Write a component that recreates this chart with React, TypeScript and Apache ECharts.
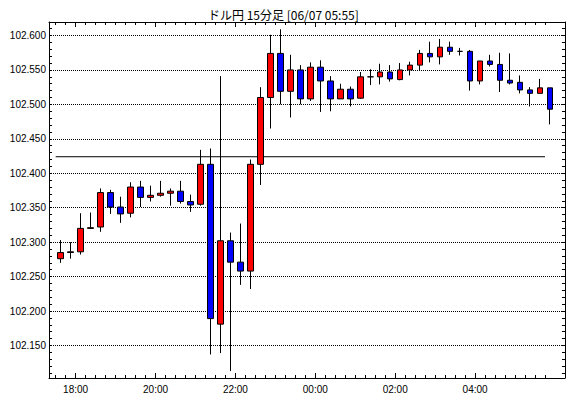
import React, { useEffect, useRef } from 'react';
import * as echarts from 'echarts';

const titleText = 'ドル円 15分足 [06/07 05:55]';

const times = [
  '17:30', '17:45', '18:00', '18:15', '18:30', '18:45', '19:00', '19:15', '19:30', '19:45',
  '20:00', '20:15', '20:30', '20:45', '21:00', '21:15', '21:30', '21:45', '22:00', '22:15',
  '22:30', '22:45', '23:00', '23:15', '23:30', '23:45', '00:00', '00:15', '00:30', '00:45',
  '01:00', '01:15', '01:30', '01:45', '02:00', '02:15', '02:30', '02:45', '03:00', '03:15',
  '03:30', '03:45', '04:00', '04:15', '04:30', '04:45', '05:00', '05:15', '05:30', '05:45',
];
const opens = [
  102.276, 102.285, 102.286, 102.320, 102.322, 102.372, 102.351, 102.342, 102.380, 102.365,
  102.368, 102.371, 102.374, 102.359, 102.355, 102.413, 102.181, 102.302, 102.271, 102.258,
  102.413, 102.510, 102.574, 102.519, 102.550, 102.508, 102.554, 102.534, 102.508, 102.522,
  102.509, 102.540, 102.540, 102.547, 102.536, 102.550, 102.557, 102.574, 102.569, 102.583,
  102.577, 102.577, 102.534, 102.563, 102.558, 102.535, 102.532, 102.521, 102.516, 102.524,
];
const closes = [
  102.285, 102.286, 102.320, 102.321, 102.372, 102.351, 102.341, 102.380, 102.365, 102.368,
  102.371, 102.374, 102.359, 102.354, 102.413, 102.189, 102.302, 102.271, 102.258, 102.413,
  102.510, 102.574, 102.519, 102.550, 102.508, 102.554, 102.534, 102.508, 102.522, 102.508,
  102.540, 102.540, 102.547, 102.537, 102.550, 102.557, 102.574, 102.569, 102.583, 102.577,
  102.577, 102.534, 102.563, 102.558, 102.535, 102.531, 102.521, 102.516, 102.524, 102.493,
];
const lows = [
  102.270, 102.276, 102.282, 102.320, 102.315, 102.341, 102.328, 102.336, 102.351, 102.359,
  102.366, 102.353, 102.356, 102.344, 102.353, 102.137, 102.139, 102.113, 102.238, 102.232,
  102.383, 102.465, 102.500, 102.481, 102.500, 102.505, 102.489, 102.490, 102.508, 102.497,
  102.508, 102.528, 102.529, 102.533, 102.535, 102.542, 102.549, 102.561, 102.558, 102.572,
  102.571, 102.520, 102.529, 102.555, 102.518, 102.529, 102.516, 102.497, 102.516, 102.471,
];
const highs = [
  102.303, 102.300, 102.342, 102.343, 102.378, 102.376, 102.366, 102.387, 102.389, 102.382,
  102.389, 102.378, 102.389, 102.369, 102.434, 102.436, 102.541, 102.314, 102.327, 102.420,
  102.525, 102.601, 102.609, 102.572, 102.557, 102.561, 102.564, 102.541, 102.530, 102.526,
  102.547, 102.551, 102.559, 102.557, 102.560, 102.562, 102.579, 102.591, 102.595, 102.591,
  102.582, 102.579, 102.563, 102.572, 102.575, 102.574, 102.542, 102.525, 102.537, 102.524,
];

const refLevel = 102.424;
const refStart = '17:30';
const refEnd = '05:45';

const yLabelValues = [102.15, 102.2, 102.25, 102.3, 102.35, 102.4, 102.45, 102.5, 102.55, 102.6];
const xLabelTimes = ['18:00', '20:00', '22:00', '00:00', '02:00', '04:00'];

// axis ranges (minutes after 17:00 / price)
const X_MIN = 20;
const X_MAX = 795;
const Y_MIN = 102.1028;
const Y_MAX = 102.6196;

const toMin = (t: string) => {
  const [h, m] = t.split(':').map(Number);
  const hh = h < 17 ? h + 24 : h;
  return (hh - 17) * 60 + m;
};
const fromMin = (v: number) => {
  const total = Math.round(v) + 17 * 60;
  const h = Math.floor(total / 60) % 24;
  const m = total % 60;
  return String(h).padStart(2, '0') + ':' + String(m).padStart(2, '0');
};

export default function App() {
  const ref = useRef<HTMLDivElement>(null);
  useEffect(() => {
    if (!ref.current) return;
    const chart = echarts.init(ref.current, undefined, { renderer: 'svg' });

    const candleTicks = times.map(toMin);
    const majorX = xLabelTimes.map(toMin);
    const minorY: number[] = [];
    for (let i = 1; i <= 51; i++) minorY.push(+(102.1 + i * 0.01).toFixed(3));

    const font = { fontFamily: 'Liberation Sans, Arial, sans-serif', fontSize: 10, color: '#000' };
    const axisLine = { show: true, lineStyle: { color: '#000', width: 1 } };

    const xBase = {
      type: 'value' as const,
      min: X_MIN,
      max: X_MAX,
      gridIndex: 0,
      splitLine: { show: false },
    };
    const yBase = {
      type: 'value' as const,
      min: Y_MIN,
      max: Y_MAX,
      gridIndex: 0,
      scale: true,
    };

    chart.setOption({
      animation: false,
      backgroundColor: '#fff',
      title: {
        text: titleText,
        left: 203,
        top: 3,
        textStyle: {
          fontFamily: 'Noto Sans CJK JP, sans-serif',
          fontSize: 12,
          fontWeight: 'normal',
          color: '#000',
        },
      },
      grid: { left: 49, right: 5, top: 22, bottom: 20, containLabel: false },
      xAxis: [
        {
          ...xBase,
          position: 'bottom',
          axisLine,
          axisTick: { show: true, inside: true, length: 3, customValues: candleTicks, lineStyle: { color: '#000' } },
          axisLabel: { show: false },
        },
        {
          ...xBase,
          position: 'bottom',
          axisLine: { show: false },
          axisTick: { show: true, inside: true, length: 5, customValues: majorX, lineStyle: { color: '#000' } },
          axisLabel: { show: true, customValues: majorX, formatter: (v: number) => fromMin(v), margin: 6, ...font },
        },
        {
          ...xBase,
          position: 'top',
          axisLine,
          axisTick: { show: true, inside: true, length: 3, customValues: candleTicks, lineStyle: { color: '#000' } },
          axisLabel: { show: false },
        },
        {
          ...xBase,
          position: 'top',
          axisLine: { show: false },
          axisTick: { show: true, inside: true, length: 5, customValues: majorX, lineStyle: { color: '#000' } },
          axisLabel: { show: false },
        },
      ],
      yAxis: [
        {
          ...yBase,
          position: 'left',
          axisLine,
          axisTick: { show: true, inside: true, length: 3, customValues: yLabelValues, lineStyle: { color: '#000' } },
          axisLabel: { show: true, customValues: yLabelValues, formatter: (v: number) => v.toFixed(3), margin: 3, ...font },
          splitLine: { show: true, lineStyle: { color: '#000', width: 1, type: [1, 1] } },
        },
        {
          ...yBase,
          position: 'left',
          axisLine: { show: false },
          axisTick: { show: true, inside: true, length: 3, customValues: minorY, lineStyle: { color: '#000' } },
          axisLabel: { show: false },
          splitLine: { show: false },
        },
        {
          ...yBase,
          position: 'right',
          axisLine,
          axisTick: { show: true, inside: true, length: 3, customValues: minorY, lineStyle: { color: '#000' } },
          axisLabel: { show: false },
          splitLine: { show: false },
        },
      ],
      series: [
        {
          type: 'line',
          xAxisIndex: 0,
          yAxisIndex: 0,
          data: [
            [toMin(refStart), refLevel],
            [toMin(refEnd), refLevel],
          ],
          symbol: 'none',
          silent: true,
          lineStyle: { color: '#000', width: 1 },
          z: 1,
        },
        {
          type: 'candlestick',
          xAxisIndex: 0,
          yAxisIndex: 0,
          barWidth: 6,
          data: times.map((t, i) => [toMin(t) + 7.5, opens[i], closes[i], lows[i], highs[i]]),
          itemStyle: {
            color: '#ff0000',
            color0: '#0000ff',
            borderColor: '#000',
            borderColor0: '#000',
            borderColorDoji: '#000',
            borderWidth: 1,
          },
          z: 2,
        },
      ],
    });
    return () => chart.dispose();
  }, []);
  return <div ref={ref} style={{ position: 'fixed', left: 0, top: 0, width: 570, height: 398 }} />;
}
